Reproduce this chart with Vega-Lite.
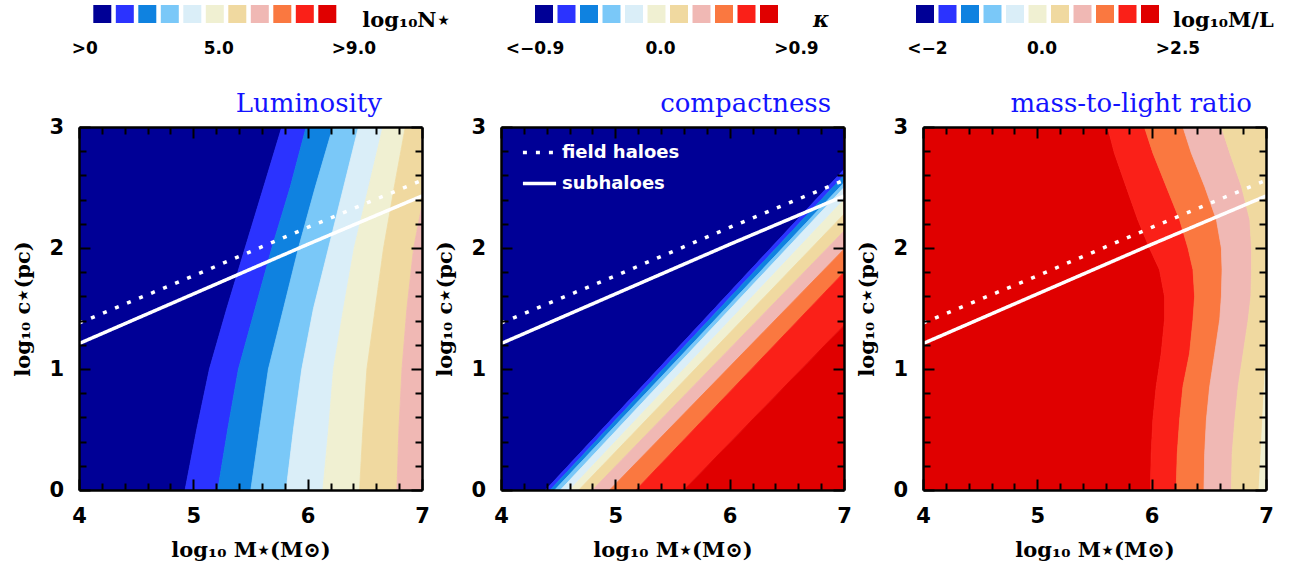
{
"$schema":"https://vega.github.io/schema/vega-lite/v6.json",
"background":"white",
"padding":{"left":12,"top":5,"right":5,"bottom":2},
"config":{
 "view":{"stroke":null},
 "axis":{"zindex":1,"domainColor":"black","domainWidth":2.5,"tickColor":"black","tickWidth":2,"grid":false,"labelFlush":false,"labelOverlap":false,"labelFont":"DejaVu Sans","labelFontSize":21,"labelFontWeight":"bold","labelColor":"black","labelPadding":26.5,"titleFont":"DejaVu Serif","titleFontSize":21,"titleFontWeight":"bold","titleColor":"black"}
},
"datasets":{
 "lv":[{"lev":0},{"lev":1},{"lev":2},{"lev":3},{"lev":4},{"lev":5},{"lev":6},{"lev":7},{"lev":8},{"lev":9},{"lev":10}],
 "ln":[{"kind":"field haloes","x":4,"y":1.38},{"kind":"field haloes","x":5,"y":1.77},{"kind":"field haloes","x":6,"y":2.17},{"kind":"field haloes","x":7,"y":2.56},
       {"kind":"subhaloes","x":4,"y":1.21},{"kind":"subhaloes","x":5,"y":1.62},{"kind":"subhaloes","x":6,"y":2.03},{"kind":"subhaloes","x":7,"y":2.43}],
 "b1":[
  {"lev":0,"y":0,"x":4,"x2":4.928},{"lev":0,"y":0.5,"x":4,"x2":5.03},{"lev":0,"y":1,"x":4,"x2":5.141},{"lev":0,"y":1.5,"x":4,"x2":5.293},{"lev":0,"y":2,"x":4,"x2":5.453},{"lev":0,"y":2.5,"x":4,"x2":5.614},{"lev":0,"y":3,"x":4,"x2":5.774},
  {"lev":1,"y":0,"x":4.928,"x2":5.214},{"lev":1,"y":0.5,"x":5.03,"x2":5.301},{"lev":1,"y":1,"x":5.141,"x2":5.395},{"lev":1,"y":1.5,"x":5.293,"x2":5.541},{"lev":1,"y":2,"x":5.453,"x2":5.687},{"lev":1,"y":2.5,"x":5.614,"x2":5.847},{"lev":1,"y":3,"x":5.774,"x2":5.987},
  {"lev":2,"y":0,"x":5.214,"x2":5.503},{"lev":2,"y":0.5,"x":5.301,"x2":5.579},{"lev":2,"y":1,"x":5.395,"x2":5.657},{"lev":2,"y":1.5,"x":5.541,"x2":5.789},{"lev":2,"y":2,"x":5.687,"x2":5.92},{"lev":2,"y":2.5,"x":5.847,"x2":6.066},{"lev":2,"y":3,"x":5.987,"x2":6.221},
  {"lev":3,"y":0,"x":5.503,"x2":5.812},{"lev":3,"y":0.5,"x":5.579,"x2":5.876},{"lev":3,"y":1,"x":5.657,"x2":5.949},{"lev":3,"y":1.5,"x":5.789,"x2":6.051},{"lev":3,"y":2,"x":5.92,"x2":6.183},{"lev":3,"y":2.5,"x":6.066,"x2":6.314},{"lev":3,"y":3,"x":6.221,"x2":6.445},
  {"lev":4,"y":0,"x":5.812,"x2":6.133},{"lev":4,"y":0.5,"x":5.876,"x2":6.183},{"lev":4,"y":1,"x":5.949,"x2":6.226},{"lev":4,"y":1.5,"x":6.051,"x2":6.314},{"lev":4,"y":2,"x":6.183,"x2":6.407},{"lev":4,"y":2.5,"x":6.314,"x2":6.533},{"lev":4,"y":3,"x":6.445,"x2":6.658},
  {"lev":5,"y":0,"x":6.133,"x2":6.454},{"lev":5,"y":0.5,"x":6.183,"x2":6.483},{"lev":5,"y":1,"x":6.226,"x2":6.518},{"lev":5,"y":1.5,"x":6.314,"x2":6.591},{"lev":5,"y":2,"x":6.407,"x2":6.664},{"lev":5,"y":2.5,"x":6.533,"x2":6.757},{"lev":5,"y":3,"x":6.658,"x2":6.854},
  {"lev":6,"y":0,"x":6.454,"x2":6.781},{"lev":6,"y":0.5,"x":6.483,"x2":6.798},{"lev":6,"y":1,"x":6.518,"x2":6.825},{"lev":6,"y":1.5,"x":6.591,"x2":6.868},{"lev":6,"y":2,"x":6.664,"x2":6.927},{"lev":6,"y":2.5,"x":6.757,"x2":7.03},{"lev":6,"y":3,"x":6.854,"x2":7.15},
  {"lev":7,"y":0,"x":6.781,"x2":7},{"lev":7,"y":0.5,"x":6.798,"x2":7},{"lev":7,"y":1,"x":6.825,"x2":7},{"lev":7,"y":1.5,"x":6.868,"x2":7},{"lev":7,"y":2,"x":6.927,"x2":7},{"lev":7,"y":2.5,"x":7.03,"x2":7},{"lev":7,"y":3,"x":7.15,"x2":7}
 ],
 "b2":[
  {"lev":0,"y":0,"x":4,"x2":4.39},{"lev":0,"y":3,"x":4,"x2":7.345},
  {"lev":1,"y":0,"x":4.39,"x2":4.43},{"lev":1,"y":3,"x":7.345,"x2":7.395},
  {"lev":2,"y":0,"x":4.43,"x2":4.47},{"lev":2,"y":3,"x":7.395,"x2":7.458},
  {"lev":3,"y":0,"x":4.47,"x2":4.52},{"lev":3,"y":3,"x":7.458,"x2":7.496},
  {"lev":4,"y":0,"x":4.52,"x2":4.6},{"lev":4,"y":3,"x":7.496,"x2":7.6},
  {"lev":5,"y":0,"x":4.6,"x2":4.68},{"lev":5,"y":3,"x":7.6,"x2":7.733},
  {"lev":6,"y":0,"x":4.68,"x2":4.8},{"lev":6,"y":3,"x":7.733,"x2":7.884},
  {"lev":7,"y":0,"x":4.8,"x2":4.95},{"lev":7,"y":3,"x":7.884,"x2":8.04},
  {"lev":8,"y":0,"x":4.95,"x2":5.18},{"lev":8,"y":3,"x":8.04,"x2":8.213},
  {"lev":9,"y":0,"x":5.18,"x2":5.6},{"lev":9,"y":3,"x":8.213,"x2":8.688},
  {"lev":10,"y":0,"x":5.6,"x2":7},{"lev":10,"y":3,"x":8.688,"x2":7}
 ],
 "b3":[
  {"lev":10,"y":0,"x":4,"x2":5.99},{"lev":10,"y":0.3,"x":4,"x2":5.996},{"lev":10,"y":0.58,"x":4,"x2":6.011},{"lev":10,"y":0.855,"x":4,"x2":6.04},{"lev":10,"y":1.13,"x":4,"x2":6.084},{"lev":10,"y":1.41,"x":4,"x2":6.113},{"lev":10,"y":1.6,"x":4,"x2":6.113},{"lev":10,"y":1.82,"x":4,"x2":6.069},{"lev":10,"y":2,"x":4,"x2":5.981},{"lev":10,"y":2.233,"x":4,"x2":5.879},{"lev":10,"y":2.509,"x":4,"x2":5.776},{"lev":10,"y":2.785,"x":4,"x2":5.674},{"lev":10,"y":3,"x":4,"x2":5.615},
  {"lev":9,"y":0,"x":5.99,"x2":6.215},{"lev":9,"y":0.3,"x":5.996,"x2":6.224},{"lev":9,"y":0.58,"x":6.011,"x2":6.245},{"lev":9,"y":0.855,"x":6.04,"x2":6.274},{"lev":9,"y":1.13,"x":6.084,"x2":6.332},{"lev":9,"y":1.41,"x":6.113,"x2":6.362},{"lev":9,"y":1.6,"x":6.113,"x2":6.376},{"lev":9,"y":1.82,"x":6.069,"x2":6.362},{"lev":9,"y":2,"x":5.981,"x2":6.318},{"lev":9,"y":2.233,"x":5.879,"x2":6.245},{"lev":9,"y":2.509,"x":5.776,"x2":6.128},{"lev":9,"y":2.785,"x":5.674,"x2":6.011},{"lev":9,"y":3,"x":5.615,"x2":5.937},
  {"lev":8,"y":0,"x":6.215,"x2":6.458},{"lev":8,"y":0.3,"x":6.224,"x2":6.464},{"lev":8,"y":0.58,"x":6.245,"x2":6.479},{"lev":8,"y":0.855,"x":6.274,"x2":6.508},{"lev":8,"y":1.13,"x":6.332,"x2":6.552},{"lev":8,"y":1.41,"x":6.362,"x2":6.596},{"lev":8,"y":1.6,"x":6.376,"x2":6.61},{"lev":8,"y":1.82,"x":6.362,"x2":6.616},{"lev":8,"y":2,"x":6.318,"x2":6.61},{"lev":8,"y":2.233,"x":6.245,"x2":6.567},{"lev":8,"y":2.509,"x":6.128,"x2":6.464},{"lev":8,"y":2.785,"x":6.011,"x2":6.347},{"lev":8,"y":3,"x":5.937,"x2":6.274},
  {"lev":7,"y":0,"x":6.458,"x2":6.698},{"lev":7,"y":0.3,"x":6.464,"x2":6.704},{"lev":7,"y":0.58,"x":6.479,"x2":6.728},{"lev":7,"y":0.855,"x":6.508,"x2":6.757},{"lev":7,"y":1.13,"x":6.552,"x2":6.801},{"lev":7,"y":1.41,"x":6.596,"x2":6.845},{"lev":7,"y":1.6,"x":6.61,"x2":6.868},{"lev":7,"y":1.82,"x":6.616,"x2":6.874},{"lev":7,"y":2,"x":6.61,"x2":6.874},{"lev":7,"y":2.233,"x":6.567,"x2":6.859},{"lev":7,"y":2.509,"x":6.464,"x2":6.786},{"lev":7,"y":2.785,"x":6.347,"x2":6.684},{"lev":7,"y":3,"x":6.274,"x2":6.61},
  {"lev":6,"y":0,"x":6.698,"x2":6.938},{"lev":6,"y":0.3,"x":6.704,"x2":6.956},{"lev":6,"y":0.58,"x":6.728,"x2":6.97},{"lev":6,"y":0.855,"x":6.757,"x2":6.985},{"lev":6,"y":1.13,"x":6.801,"x2":7},{"lev":6,"y":1.41,"x":6.845,"x2":7.02},{"lev":6,"y":1.6,"x":6.868,"x2":7.03},{"lev":6,"y":1.82,"x":6.874,"x2":7.04},{"lev":6,"y":2,"x":6.874,"x2":7.05},{"lev":6,"y":2.233,"x":6.859,"x2":7.05},{"lev":6,"y":2.509,"x":6.786,"x2":7.05},{"lev":6,"y":2.785,"x":6.684,"x2":7.05},{"lev":6,"y":3,"x":6.61,"x2":7.05},
  {"lev":5,"y":0,"x":6.938,"x2":7},{"lev":5,"y":0.3,"x":6.956,"x2":7},{"lev":5,"y":0.58,"x":6.97,"x2":7},{"lev":5,"y":0.855,"x":6.985,"x2":7},{"lev":5,"y":1.13,"x":7,"x2":7}
 ]
},
"bounds":"flush",
"columns":3,
"spacing":{"column":79,"row":104},
"resolve":{"scale":{"strokeDash":"independent","x":"independent","y":"independent"}},
"concat":[
   {"width":243,"height":18,
    "layer":[
     {"data":{"name":"lv"},"mark":{"type":"rect","xOffset":14.3},
      "encoding":{"x":{"field":"lev","type":"ordinal","scale":{"type":"band","domain":[0,1,2,3,4,5,6,7,8,9,10],"paddingInner":0.2,"paddingOuter":0},"axis":null},
       "color":{"field":"lev","type":"nominal","scale":{"domain":[0,1,2,3,4,5,6,7,8,9,10],"range":["#000096","#2b33ff","#0f82e0","#7ac8f8","#daeef8","#f0f0d2","#f0d9a0","#f0b8b4","#fa7840","#fa2018","#e00000"]},"legend":null}}},
     {"data":{"values":[{"lev":0,"t":">0"}]},"mark":{"type":"text","xOffset":14.3,"dx":-17.5,"dy":35,"font":"DejaVu Sans","fontSize":17,"fontWeight":"bold","color":"black"},"encoding":{"x":{"field":"lev","type":"ordinal","axis":null},"text":{"field":"t"}}},
     {"data":{"values":[{"lev":5,"t":"5.0"}]},"mark":{"type":"text","xOffset":14.3,"dx":4,"dy":35,"font":"DejaVu Sans","fontSize":17,"fontWeight":"bold","color":"black"},"encoding":{"x":{"field":"lev","type":"ordinal","axis":null},"text":{"field":"t"}}},
     {"data":{"values":[{"lev":10,"t":">9.0"}]},"mark":{"type":"text","xOffset":14.3,"dx":26.5,"dy":35,"font":"DejaVu Sans","fontSize":17,"fontWeight":"bold","color":"black"},"encoding":{"x":{"field":"lev","type":"ordinal","axis":null},"text":{"field":"t"}}},
     {"data":{"values":[{"lev":10,"t":"log₁₀N⋆"}]},"mark":{"type":"text","xOffset":14.3,"align":"left","dx":35,"dy":7,"font":"DejaVu Serif","fontSize":21,"fontWeight":"bold","color":"black"},"encoding":{"x":{"field":"lev","type":"ordinal","axis":null},"text":{"field":"t"}}}
    ]},
   {"width":243,"height":18,
    "layer":[
     {"data":{"name":"lv"},"mark":{"type":"rect","xOffset":34},
      "encoding":{"x":{"field":"lev","type":"ordinal","scale":{"type":"band","domain":[0,1,2,3,4,5,6,7,8,9,10],"paddingInner":0.2,"paddingOuter":0},"axis":null},
       "color":{"field":"lev","type":"nominal","scale":{"domain":[0,1,2,3,4,5,6,7,8,9,10],"range":["#000096","#2b33ff","#0f82e0","#7ac8f8","#daeef8","#f0f0d2","#f0d9a0","#f0b8b4","#fa7840","#fa2018","#e00000"]},"legend":null}}},
     {"data":{"values":[{"lev":0,"t":"<−0.9"}]},"mark":{"type":"text","xOffset":34,"dx":-9,"dy":35,"font":"DejaVu Sans","fontSize":17,"fontWeight":"bold","color":"black"},"encoding":{"x":{"field":"lev","type":"ordinal","axis":null},"text":{"field":"t"}}},
     {"data":{"values":[{"lev":5,"t":"0.0"}]},"mark":{"type":"text","xOffset":34,"dx":4,"dy":35,"font":"DejaVu Sans","fontSize":17,"fontWeight":"bold","color":"black"},"encoding":{"x":{"field":"lev","type":"ordinal","axis":null},"text":{"field":"t"}}},
     {"data":{"values":[{"lev":10,"t":">0.9"}]},"mark":{"type":"text","xOffset":34,"dx":27.5,"dy":35,"font":"DejaVu Sans","fontSize":17,"fontWeight":"bold","color":"black"},"encoding":{"x":{"field":"lev","type":"ordinal","axis":null},"text":{"field":"t"}}},
     {"data":{"values":[{"lev":10,"t":"κ"}]},"mark":{"type":"text","xOffset":34,"align":"left","dx":44,"dy":5.5,"font":"DejaVu Serif","fontSize":22,"fontWeight":"bold","fontStyle":"italic","color":"black"},"encoding":{"x":{"field":"lev","type":"ordinal","axis":null},"text":{"field":"t"}}}
    ]},
   {"width":243,"height":18,
    "layer":[
     {"data":{"name":"lv"},"mark":{"type":"rect","xOffset":-7},
      "encoding":{"x":{"field":"lev","type":"ordinal","scale":{"type":"band","domain":[0,1,2,3,4,5,6,7,8,9,10],"paddingInner":0.2,"paddingOuter":0},"axis":null},
       "color":{"field":"lev","type":"nominal","scale":{"domain":[0,1,2,3,4,5,6,7,8,9,10],"range":["#000096","#2b33ff","#0f82e0","#7ac8f8","#daeef8","#f0f0d2","#f0d9a0","#f0b8b4","#fa7840","#fa2018","#e00000"]},"legend":null}}},
     {"data":{"values":[{"lev":0,"t":"<−2"}]},"mark":{"type":"text","xOffset":-7,"dx":2.5,"dy":35,"font":"DejaVu Sans","fontSize":17,"fontWeight":"bold","color":"black"},"encoding":{"x":{"field":"lev","type":"ordinal","axis":null},"text":{"field":"t"}}},
     {"data":{"values":[{"lev":5,"t":"0.0"}]},"mark":{"type":"text","xOffset":-7,"dx":4.5,"dy":35,"font":"DejaVu Sans","fontSize":17,"fontWeight":"bold","color":"black"},"encoding":{"x":{"field":"lev","type":"ordinal","axis":null},"text":{"field":"t"}}},
     {"data":{"values":[{"lev":10,"t":">2.5"}]},"mark":{"type":"text","xOffset":-7,"dx":28,"dy":35,"font":"DejaVu Sans","fontSize":17,"fontWeight":"bold","color":"black"},"encoding":{"x":{"field":"lev","type":"ordinal","axis":null},"text":{"field":"t"}}},
     {"data":{"values":[{"lev":10,"t":"log₁₀M/L"}]},"mark":{"type":"text","xOffset":-7,"align":"left","dx":23,"dy":7,"font":"DejaVu Serif","fontSize":21,"fontWeight":"bold","color":"black"},"encoding":{"x":{"field":"lev","type":"ordinal","axis":null},"text":{"field":"t"}}}
    ]},
   {"width":343,"height":363,
    "title":{"text":"Luminosity","anchor":"end","frame":"group","dx":-40,"dy":36,"offset":14,"baseline":"alphabetic","color":"#1414ff","font":"DejaVu Serif","fontSize":26,"fontWeight":"normal"},
    "resolve":{"axis":{"x":"independent","y":"independent"}},
    "layer":[
     {"data":{"name":"b1"},"mark":{"type":"area","orient":"horizontal","clip":true,"strokeWidth":0.8},
      "encoding":{
       "y":{"field":"y","type":"quantitative","scale":{"domain":[0,3],"nice":false,"zero":false},"axis":{"zindex":1,"orient":"left","values":[0,0.2,0.4,0.6,0.8,1,1.2,1.4,1.6,1.8,2,2.2,2.4,2.6,2.8,3],"tickSize":{"condition":{"test":"datum.value % 1 === 0","value":-11},"value":-7},"labelExpr":"datum.value % 1 === 0 ? format(datum.value, 'd') : ''","title":"log₁₀ c⋆(pc)","titlePadding":15}},
       "x":{"field":"x","type":"quantitative","scale":{"domain":[4,7],"nice":false,"zero":false},"axis":{"zindex":1,"orient":"bottom","values":[4,4.2,4.4,4.6,4.8,5,5.2,5.4,5.6,5.8,6,6.2,6.4,6.6,6.8,7],"tickSize":{"condition":{"test":"datum.value % 1 === 0","value":-11},"value":-7},"labelExpr":"datum.value % 1 === 0 ? format(datum.value, 'd') : ''","title":"log₁₀ M⋆(M⊙)","titlePadding":9}},
       "x2":{"field":"x2"},
       "color":{"field":"lev","type":"nominal","scale":{"domain":[0,1,2,3,4,5,6,7,8,9,10],"range":["#000096","#2b33ff","#0f82e0","#7ac8f8","#daeef8","#f0f0d2","#f0d9a0","#f0b8b4","#fa7840","#fa2018","#e00000"]},"legend":null},
       "stroke":{"field":"lev","type":"nominal","scale":{"domain":[0,1,2,3,4,5,6,7,8,9,10],"range":["#000096","#2b33ff","#0f82e0","#7ac8f8","#daeef8","#f0f0d2","#f0d9a0","#f0b8b4","#fa7840","#fa2018","#e00000"]},"legend":null}}},
     {"data":{"name":"ln"},"mark":{"type":"line","clip":true,"color":"white","strokeWidth":3.5},
      "encoding":{
       "x":{"field":"x","type":"quantitative","axis":{"zindex":1,"orient":"top","values":[4,4.2,4.4,4.6,4.8,5,5.2,5.4,5.6,5.8,6,6.2,6.4,6.6,6.8,7],"tickSize":{"condition":{"test":"datum.value % 1 === 0","value":-11},"value":-7},"labels":false,"title":null}},
       "y":{"field":"y","type":"quantitative","axis":{"zindex":1,"orient":"right","values":[0,0.2,0.4,0.6,0.8,1,1.2,1.4,1.6,1.8,2,2.2,2.4,2.6,2.8,3],"tickSize":{"condition":{"test":"datum.value % 1 === 0","value":-11},"value":-7},"labels":false,"title":null}},
       "strokeDash":{"field":"kind","type":"nominal","scale":{"domain":["field haloes","subhaloes"],"range":[[4,9],[1,0]]},"legend":null}}}
    ]},
   {"width":343,"height":363,
    "title":{"text":"compactness","anchor":"end","frame":"group","dx":-13,"dy":36,"offset":14,"baseline":"alphabetic","color":"#1414ff","font":"DejaVu Serif","fontSize":26,"fontWeight":"normal"},
    "resolve":{"axis":{"x":"independent","y":"independent"}},
    "layer":[
     {"data":{"name":"b2"},"mark":{"type":"area","orient":"horizontal","clip":true,"strokeWidth":0.8},
      "encoding":{
       "y":{"field":"y","type":"quantitative","scale":{"domain":[0,3],"nice":false,"zero":false},"axis":{"zindex":1,"orient":"left","values":[0,0.2,0.4,0.6,0.8,1,1.2,1.4,1.6,1.8,2,2.2,2.4,2.6,2.8,3],"tickSize":{"condition":{"test":"datum.value % 1 === 0","value":-11},"value":-7},"labelExpr":"datum.value % 1 === 0 ? format(datum.value, 'd') : ''","title":"log₁₀ c⋆(pc)","titlePadding":15}},
       "x":{"field":"x","type":"quantitative","scale":{"domain":[4,7],"nice":false,"zero":false},"axis":{"zindex":1,"orient":"bottom","values":[4,4.2,4.4,4.6,4.8,5,5.2,5.4,5.6,5.8,6,6.2,6.4,6.6,6.8,7],"tickSize":{"condition":{"test":"datum.value % 1 === 0","value":-11},"value":-7},"labelExpr":"datum.value % 1 === 0 ? format(datum.value, 'd') : ''","title":"log₁₀ M⋆(M⊙)","titlePadding":9}},
       "x2":{"field":"x2"},
       "color":{"field":"lev","type":"nominal","scale":{"domain":[0,1,2,3,4,5,6,7,8,9,10],"range":["#000096","#2b33ff","#0f82e0","#7ac8f8","#daeef8","#f0f0d2","#f0d9a0","#f0b8b4","#fa7840","#fa2018","#e00000"]},"legend":null},
       "stroke":{"field":"lev","type":"nominal","scale":{"domain":[0,1,2,3,4,5,6,7,8,9,10],"range":["#000096","#2b33ff","#0f82e0","#7ac8f8","#daeef8","#f0f0d2","#f0d9a0","#f0b8b4","#fa7840","#fa2018","#e00000"]},"legend":null}}},
     {"data":{"name":"ln"},"mark":{"type":"line","clip":true,"color":"white","strokeWidth":3.5},
      "encoding":{
       "x":{"field":"x","type":"quantitative","axis":{"zindex":1,"orient":"top","values":[4,4.2,4.4,4.6,4.8,5,5.2,5.4,5.6,5.8,6,6.2,6.4,6.6,6.8,7],"tickSize":{"condition":{"test":"datum.value % 1 === 0","value":-11},"value":-7},"labels":false,"title":null}},
       "y":{"field":"y","type":"quantitative","axis":{"zindex":1,"orient":"right","values":[0,0.2,0.4,0.6,0.8,1,1.2,1.4,1.6,1.8,2,2.2,2.4,2.6,2.8,3],"tickSize":{"condition":{"test":"datum.value % 1 === 0","value":-11},"value":-7},"labels":false,"title":null}},
       "strokeDash":{"field":"kind","type":"nominal","scale":{"domain":["field haloes","subhaloes"],"range":[[4,9],[1,0]]},
        "legend":{"orient":"none","legendX":20,"legendY":7,"title":null,"symbolType":"stroke","symbolStrokeColor":"white","symbolStrokeWidth":3.5,"symbolSize":1100,"labelColor":"white","labelFont":"DejaVu Sans","labelFontSize":18,"labelFontWeight":"bold","labelOffset":4,"rowPadding":3,"padding":0}}}}
    ]},
   {"width":343,"height":363,
    "title":{"text":"mass-to-light ratio","anchor":"end","frame":"group","dx":-14,"dy":36,"offset":14,"baseline":"alphabetic","color":"#1414ff","font":"DejaVu Serif","fontSize":26,"fontWeight":"normal"},
    "resolve":{"axis":{"x":"independent","y":"independent"}},
    "layer":[
     {"data":{"name":"b3"},"mark":{"type":"area","orient":"horizontal","clip":true,"strokeWidth":0.8},
      "encoding":{
       "y":{"field":"y","type":"quantitative","scale":{"domain":[0,3],"nice":false,"zero":false},"axis":{"zindex":1,"orient":"left","values":[0,0.2,0.4,0.6,0.8,1,1.2,1.4,1.6,1.8,2,2.2,2.4,2.6,2.8,3],"tickSize":{"condition":{"test":"datum.value % 1 === 0","value":-11},"value":-7},"labelExpr":"datum.value % 1 === 0 ? format(datum.value, 'd') : ''","title":"log₁₀ c⋆(pc)","titlePadding":15}},
       "x":{"field":"x","type":"quantitative","scale":{"domain":[4,7],"nice":false,"zero":false},"axis":{"zindex":1,"orient":"bottom","values":[4,4.2,4.4,4.6,4.8,5,5.2,5.4,5.6,5.8,6,6.2,6.4,6.6,6.8,7],"tickSize":{"condition":{"test":"datum.value % 1 === 0","value":-11},"value":-7},"labelExpr":"datum.value % 1 === 0 ? format(datum.value, 'd') : ''","title":"log₁₀ M⋆(M⊙)","titlePadding":9}},
       "x2":{"field":"x2"},
       "color":{"field":"lev","type":"nominal","scale":{"domain":[0,1,2,3,4,5,6,7,8,9,10],"range":["#000096","#2b33ff","#0f82e0","#7ac8f8","#daeef8","#f0f0d2","#f0d9a0","#f0b8b4","#fa7840","#fa2018","#e00000"]},"legend":null},
       "stroke":{"field":"lev","type":"nominal","scale":{"domain":[0,1,2,3,4,5,6,7,8,9,10],"range":["#000096","#2b33ff","#0f82e0","#7ac8f8","#daeef8","#f0f0d2","#f0d9a0","#f0b8b4","#fa7840","#fa2018","#e00000"]},"legend":null}}},
     {"data":{"name":"ln"},"mark":{"type":"line","clip":true,"color":"white","strokeWidth":3.5},
      "encoding":{
       "x":{"field":"x","type":"quantitative","axis":{"zindex":1,"orient":"top","values":[4,4.2,4.4,4.6,4.8,5,5.2,5.4,5.6,5.8,6,6.2,6.4,6.6,6.8,7],"tickSize":{"condition":{"test":"datum.value % 1 === 0","value":-11},"value":-7},"labels":false,"title":null}},
       "y":{"field":"y","type":"quantitative","axis":{"zindex":1,"orient":"right","values":[0,0.2,0.4,0.6,0.8,1,1.2,1.4,1.6,1.8,2,2.2,2.4,2.6,2.8,3],"tickSize":{"condition":{"test":"datum.value % 1 === 0","value":-11},"value":-7},"labels":false,"title":null}},
       "strokeDash":{"field":"kind","type":"nominal","scale":{"domain":["field haloes","subhaloes"],"range":[[4,9],[1,0]]},"legend":null}}}
    ]}
]
}
